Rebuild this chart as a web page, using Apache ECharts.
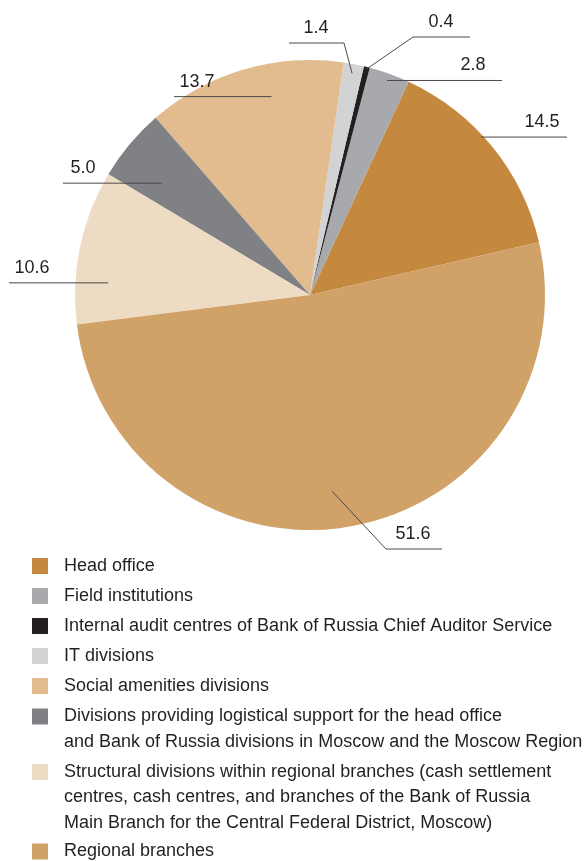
<!DOCTYPE html>
<html><head><meta charset="utf-8">
<script src="https://cdn.jsdelivr.net/npm/echarts@6/dist/echarts.min.js"></script>
<style>html,body{margin:0;padding:0;background:#fff}#c{width:585px;height:861px}</style>
</head><body><div id="c"></div>
<script>
// ---- data ----
const categories = [
  'Head office',
  'Field institutions',
  'Internal audit centres of Bank of Russia Chief Auditor Service',
  'IT divisions',
  'Social amenities divisions',
  'Divisions providing logistical support for the head office\nand Bank of Russia divisions in Moscow and the Moscow Region',
  'Structural divisions within regional branches (cash settlement\ncentres, cash centres, and branches of the Bank of Russia\nMain Branch for the Central Federal District, Moscow)',
  'Regional branches'
];
const shares = [14.5, 2.8, 0.4, 1.4, 13.7, 5.0, 10.6, 51.6];

// ---- styles / layout ----
const colors = ['#c4893f', '#a7a9ac', '#231f20', '#d1d3d4', '#e2bc8f', '#808184', '#eddcc3', '#d1a268'];
const FONT = "'Liberation Sans', Arial, sans-serif";
const legendIconY = [566, 596, 626, 656, 686, 716.5, 772, 851.5];
const LH = 25.5;
const labelCfg = [
  {pos: 0.43, frac: 0.99, endX: 567, textX: 542},
  {pos: 0.5,  frac: 0.97, endX: 502, textX: 473},
  {pos: 0.5,  frac: 0.99, elbow: [413, 37], endX: 470, textX: 441},
  {pos: 0.5,  frac: 0.96, elbow: [344, 43], endX: 289, textX: 316},
  {pos: 0.61, frac: 0.86, endX: 174, textX: 197},
  {pos: 0.34, frac: 0.79, endX: 63,  textX: 83},
  {pos: 0.28, frac: 0.86, endX: 9,   textX: 32},
  {pos: 0.52, frac: 0.84, elbow: [386, 549], endX: 442, textX: 413}
];

const chart = echarts.init(document.getElementById('c'), null, {renderer: 'canvas'});

const legends = categories.map((name, i) => {
  const n = name.split('\n').length;
  return {
    data: [name],
    orient: 'vertical',
    left: 32,
    top: legendIconY[i] - (2 * n - 1) * LH / 2,
    icon: 'rect',
    itemWidth: 16,
    itemHeight: 16,
    padding: 0,
    selectedMode: false,
    formatter: nm => '\n'.repeat(n - 1) + nm,
    textStyle: {
      fontFamily: FONT,
      fontSize: 18,
      color: '#231f20',
      lineHeight: LH,
      padding: [0, 0, 0, 11]
    }
  };
});

const pieBase = {
  type: 'pie',
  center: [310, 295],
  radius: 235,
  startAngle: 13,
  clockwise: false,
  avoidLabelOverlap: false,
  silent: true,
  emphasis: {disabled: true},
  data: categories.map((name, i) => ({name: name, value: shares[i]}))
};

chart.setOption({
  animation: false,
  color: colors,
  legend: legends,
  series: [
    Object.assign({}, pieBase, {
      z: 2,
      itemStyle: {borderWidth: 0},
      label: {show: false},
      labelLine: {show: false}
    }),
    // overlay pie (invisible sectors) carrying the value labels and leader lines above the slices
    Object.assign({}, pieBase, {
      z: 3,
      itemStyle: {color: 'rgba(0,0,0,0)', borderWidth: 0},
      label: {
        show: true,
        position: 'outside',
        fontFamily: FONT,
        fontSize: 18,
        color: '#231f20',
        formatter: p => p.value.toFixed(1)
      },
      labelLine: {show: true, showAbove: true, lineStyle: {color: '#4a4a4c', width: 1}},
      labelLayout: function (p) {
        const i = p.dataIndex, c = labelCfg[i];
        const lay = chart.getModel().getSeriesByIndex(p.seriesIndex).getData().getItemLayout(i);
        const a0 = Math.min(lay.startAngle, lay.endAngle), a1 = Math.max(lay.startAngle, lay.endAngle);
        const a = a0 + c.pos * (a1 - a0);
        const rr = c.frac * lay.r;
        const anchor = [lay.cx + rr * Math.cos(a), lay.cy + rr * Math.sin(a)];
        const elbow = c.elbow ? c.elbow : anchor;
        const lineY = elbow[1];
        return {
          x: c.textX, y: lineY - 15,
          align: 'center', verticalAlign: 'middle',
          labelLinePoints: [anchor, elbow, [c.endX, lineY]]
        };
      }
    })
  ]
});
</script></body></html>
